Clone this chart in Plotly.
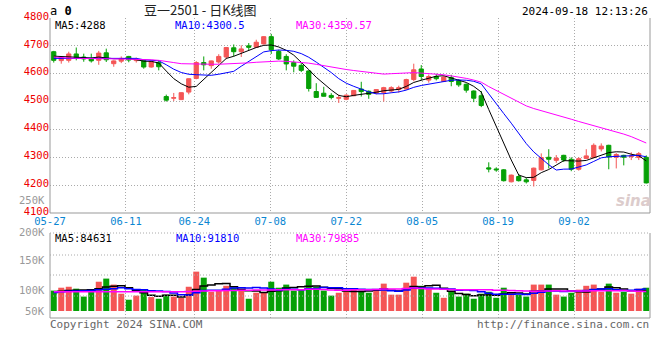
import plotly.graph_objects as go

# ---------------- data ----------------
dates = ["05-27", "05-28", "05-29", "05-30", "05-31",
         "06-03", "06-04", "06-05", "06-06", "06-07",
         "06-11", "06-12", "06-13", "06-14",
         "06-17", "06-18", "06-19", "06-20", "06-21",
         "06-24", "06-25", "06-26", "06-27", "06-28",
         "07-01", "07-02", "07-03", "07-04", "07-05",
         "07-08", "07-09", "07-10", "07-11", "07-12",
         "07-15", "07-16", "07-17", "07-18", "07-19",
         "07-22", "07-23", "07-24", "07-25", "07-26",
         "07-29", "07-30", "07-31", "08-01", "08-02",
         "08-05", "08-06", "08-07", "08-08", "08-09",
         "08-12", "08-13", "08-14", "08-15", "08-16",
         "08-19", "08-20", "08-21", "08-22", "08-23",
         "08-26", "08-27", "08-28", "08-29", "08-30",
         "09-02", "09-03", "09-04", "09-05", "09-06",
         "09-09", "09-10", "09-11", "09-12", "09-13",
         "09-18"]

opens = [4679, 4647, 4648, 4671, 4660, 4655, 4648, 4675, 4636, 4645,
         4662, 4647, 4648, 4624, 4640, 4518, 4512, 4507, 4534, 4583,
         4640, 4629, 4642, 4660, 4693, 4679, 4700, 4695, 4707, 4733,
         4680, 4662, 4640, 4630, 4610, 4536, 4530, 4522, 4512, 4508,
         4521, 4545, 4537, 4531, 4533, 4538, 4543, 4545, 4579, 4617,
         4577, 4590, 4572, 4586, 4576, 4562, 4538, 4521, 4262, 4258,
         4255, 4212, 4231, 4219, 4217, 4255, 4300, 4289, 4307, 4293,
         4257, 4296, 4299, 4330, 4343, 4300, 4307, 4302, 4299, 4300]
highs = [4682, 4662, 4679, 4694, 4672, 4672, 4682, 4690, 4648, 4662,
         4664, 4658, 4650, 4645, 4648, 4525, 4531, 4533, 4583, 4645,
         4662, 4647, 4670, 4696, 4705, 4702, 4710, 4722, 4735, 4743,
         4686, 4670, 4648, 4640, 4612, 4566, 4553, 4530, 4525, 4526,
         4541, 4571, 4540, 4545, 4553, 4555, 4557, 4582, 4636, 4631,
         4597, 4600, 4592, 4596, 4580, 4565, 4540, 4538, 4282, 4264,
         4258, 4238, 4240, 4227, 4263, 4314, 4329, 4308, 4309, 4300,
         4300, 4329, 4350, 4350, 4345, 4315, 4309, 4318, 4319, 4307]
lows = [4640, 4636, 4640, 4648, 4643, 4640, 4632, 4642, 4625, 4638,
        4641, 4640, 4618, 4622, 4612, 4500, 4502, 4506, 4526, 4580,
        4612, 4618, 4636, 4652, 4662, 4660, 4684, 4693, 4705, 4671,
        4649, 4612, 4605, 4606, 4536, 4514, 4518, 4508, 4495, 4505,
        4519, 4518, 4510, 4526, 4500, 4533, 4532, 4543, 4573, 4576,
        4568, 4576, 4570, 4555, 4553, 4532, 4498, 4480, 4246, 4248,
        4213, 4210, 4213, 4206, 4195, 4253, 4260, 4280, 4283, 4250,
        4252, 4294, 4297, 4321, 4257, 4260, 4271, 4290, 4290, 4206]
closes = [4648, 4658, 4671, 4655, 4653, 4646, 4674, 4650, 4646, 4655,
          4649, 4651, 4624, 4643, 4625, 4505, 4514, 4532, 4582, 4640,
          4632, 4646, 4662, 4694, 4679, 4689, 4695, 4713, 4733, 4686,
          4653, 4635, 4627, 4612, 4547, 4515, 4519, 4515, 4514, 4523,
          4540, 4536, 4526, 4543, 4550, 4550, 4550, 4579, 4614, 4590,
          4590, 4582, 4588, 4572, 4560, 4541, 4512, 4486, 4258, 4255,
          4216, 4236, 4216, 4212, 4261, 4299, 4293, 4297, 4290, 4257,
          4295, 4305, 4343, 4340, 4301, 4310, 4300, 4304, 4313, 4208]

ma5 = [4663, 4662, 4660, 4658, 4657.0, 4656.6, 4659.8, 4655.6, 4653.8, 4654.2,
       4654.8, 4650.2, 4645.0, 4644.4, 4638.4, 4609.6, 4582.2, 4563.8, 4551.6, 4554.6,
       4580.0, 4606.4, 4632.4, 4654.8, 4662.6, 4674.0, 4683.8, 4694.0, 4701.8, 4703.2,
       4696.0, 4684.0, 4666.8, 4642.6, 4614.8, 4587.2, 4564.0, 4541.6, 4522.0, 4517.2,
       4522.2, 4525.6, 4527.8, 4533.6, 4539.0, 4541.0, 4543.8, 4554.4, 4568.6, 4576.6,
       4584.6, 4591.0, 4592.8, 4584.4, 4578.4, 4568.6, 4554.6, 4534.2, 4471.4, 4410.4,
       4345.4, 4290.2, 4236.2, 4227.0, 4228.2, 4244.8, 4256.2, 4272.4, 4288.0, 4287.2,
       4286.4, 4288.8, 4298.0, 4308.0, 4316.8, 4319.8, 4318.8, 4311.0, 4305.6, 4287.0]
ma10 = [4655, 4655, 4656, 4656, 4656, 4655, 4656, 4655, 4655, 4655.6,
        4655.7, 4655.0, 4650.3, 4649.1, 4646.3, 4632.2, 4616.2, 4604.4, 4598.0, 4596.5,
        4594.8, 4594.3, 4598.1, 4603.2, 4608.6, 4627.0, 4645.1, 4663.2, 4678.3, 4682.9,
        4685.0, 4683.9, 4680.4, 4672.2, 4659.0, 4641.6, 4624.0, 4604.2, 4582.3, 4566.0,
        4554.7, 4544.8, 4534.7, 4527.8, 4528.1, 4531.6, 4534.7, 4541.1, 4551.1, 4557.8,
        4562.8, 4567.4, 4573.6, 4576.5, 4577.5, 4576.6, 4572.8, 4563.5, 4527.9, 4494.4,
        4457.0, 4422.4, 4385.2, 4349.2, 4319.3, 4295.1, 4273.2, 4254.3, 4257.5, 4257.7,
        4265.6, 4272.5, 4285.2, 4298.0, 4302.0, 4303.1, 4303.8, 4304.5, 4306.8, 4301.9]
ma30 = [4660, 4657, 4656, 4655, 4655, 4654, 4654, 4653, 4653, 4653,
        4652, 4652, 4651, 4650, 4648, 4645, 4640, 4636, 4635, 4635,
        4634, 4634, 4634, 4635, 4635, 4636, 4639, 4641, 4643, 4645.0,
        4645.2, 4644.4, 4642.9, 4641.5, 4638.0, 4633.6, 4628.4, 4623.9, 4619.5, 4615.1,
        4611.5, 4607.7, 4604.4, 4601.1, 4598.6, 4600.1, 4601.3, 4602.8, 4603.9, 4602.2,
        4600.8, 4598.7, 4596.2, 4592.2, 4588.2, 4583.3, 4577.2, 4569.6, 4553.8, 4539.4,
        4524.8, 4511.5, 4497.8, 4484.5, 4475.0, 4467.8, 4460.2, 4453.0, 4445.5, 4436.6,
        4428.5, 4420.8, 4414.7, 4407.9, 4399.6, 4391.6, 4383.3, 4374.1, 4364.1, 4351.3]

volumes = [85000, 97000, 101000, 93000, 60000, 89000, 122000, 135000, 110000, 72000,
           47000, 64000, 89000, 58000, 51000, 68000, 60000, 55000, 101000, 164000,
           139000, 80000, 85000, 105000, 97000, 85000, 51000, 76000, 76000, 122000,
           97000, 110000, 85000, 89000, 135000, 101000, 85000, 64000, 76000, 89000,
           93000, 85000, 76000, 89000, 114000, 68000, 68000, 118000, 143000, 105000,
           93000, 76000, 55000, 80000, 60000, 72000, 51000, 72000, 80000, 55000,
           97000, 76000, 68000, 60000, 110000, 110000, 110000, 68000, 60000, 76000,
           89000, 105000, 110000, 80000, 114000, 76000, 80000, 72000, 93000, 97000]
vol_ma5 = [79, 82, 85, 86, 87.2, 88.0, 93.0, 99.8, 103.2, 105.6,
           97.2, 85.6, 76.4, 66.0, 61.8, 66.0, 65.2, 58.4, 67.0, 89.6,
           103.8, 107.8, 113.8, 114.6, 101.2, 90.4, 84.6, 82.8, 77.0, 82.0,
           84.4, 96.2, 98.0, 100.6, 103.2, 104.0, 99.0, 94.8, 92.2, 83.0,
           81.4, 81.4, 83.8, 86.4, 91.4, 86.4, 83.0, 91.4, 102.2, 100.4,
           105.4, 107.0, 94.4, 81.8, 72.8, 68.6, 63.6, 67.0, 67.0, 66.0,
           71.0, 76.0, 75.2, 71.2, 82.2, 84.8, 91.6, 91.6, 91.6, 84.8,
           80.6, 79.6, 88.0, 92.0, 99.6, 97.0, 92.0, 84.4, 87.0, 83.6]
vol_ma10 = [77, 80, 82, 83, 84, 85, 88, 91, 93, 96.4,
            92.6, 89.3, 88.1, 84.6, 83.7, 81.6, 75.4, 67.4, 66.5, 75.7,
            84.9, 86.5, 86.1, 90.8, 95.4, 97.1, 96.2, 98.3, 95.8, 91.6,
            87.4, 90.4, 90.4, 88.8, 92.6, 94.2, 97.6, 96.4, 96.4, 93.1,
            92.7, 90.2, 89.3, 89.3, 87.2, 83.9, 82.2, 87.6, 94.3, 95.9,
            95.9, 95.0, 92.9, 92.0, 86.6, 87.0, 85.3, 80.7, 74.4, 69.4,
            69.8, 69.8, 71.1, 69.1, 74.1, 77.9, 83.8, 83.4, 81.4, 83.5,
            82.7, 85.6, 89.8, 91.8, 92.2, 88.8, 85.8, 86.2, 89.5, 91.6]
vol_ma30 = [80, 80, 80, 80, 80, 80, 80, 80, 80, 80,
            80, 80, 80, 80, 80, 80, 80, 80, 81, 82,
            83, 84, 84, 85, 85, 86, 86, 87, 87, 87.9,
            88.3, 88.7, 88.2, 88.1, 90.6, 91.0, 89.7, 87.4, 86.2, 86.8,
            88.3, 89.0, 88.6, 89.6, 91.7, 91.7, 92.0, 94.1, 95.5, 93.5,
            92.0, 91.9, 90.9, 90.0, 88.8, 88.4, 88.4, 88.2, 88.4, 86.1,
            86.1, 85.0, 84.4, 83.5, 82.6, 82.9, 83.8, 83.9, 83.4, 82.9,
            82.8, 83.5, 84.6, 84.3, 84.3, 84.6, 85.0, 83.4, 81.8, 81.5]

tick_dates = ["05-27", "06-11", "06-24", "07-08", "07-22", "08-05", "08-19", "09-02"]
price_ticks = [4100, 4200, 4300, 4400, 4500, 4600, 4700, 4800]
vol_tick_labels = ["250K", "200K", "150K", "100K", "50K"]

title_text = "豆一2501 - 日K线图"
time_text = "2024-09-18 12:13:26"
price_ma_text = ["MA5:4288", "MA10:4300.5", "MA30:4350.57"]
vol_ma_text = ["MA5:84631", "MA10:91810", "MA30:79885"]

# ---------------- styling ----------------
RED = "#f45656"
GREEN = "#06a006"
MONO = "DejaVu Sans Mono"
W, H = 660, 360
ML, MR, MT, MB = 50, 10, 18, 42
PW, PH = W - ML - MR, H - MT - MB


def px(x):
    return (x - ML) / PW


def py(y):
    return (H - MB - y) / PH


xs = list(range(len(dates)))
n = len(dates)
tickvals = [dates.index(d) * n / (n - 1) - 0.5 for d in tick_dates]
vol_k = 1000

fig = go.Figure()
fig.add_trace(go.Candlestick(
    x=xs, open=opens, high=highs, low=lows, close=closes,
    increasing=dict(line=dict(color=RED, width=1), fillcolor=RED),
    decreasing=dict(line=dict(color=GREEN, width=1), fillcolor=GREEN),
    whiskerwidth=0, showlegend=False, hoverinfo="skip",
    xaxis="x", yaxis="y"))
for series, col in [(ma5, "#000000"), (ma10, "#0000ff"), (ma30, "#ff00ff")]:
    fig.add_trace(go.Scatter(x=xs, y=series, mode="lines",
                             line=dict(color=col, width=1),
                             showlegend=False, hoverinfo="skip",
                             xaxis="x", yaxis="y"))

bar_colors = [RED if c >= o else GREEN for o, c in zip(opens, closes)]
fig.add_trace(go.Bar(x=xs, y=volumes, marker=dict(color=bar_colors, line=dict(width=0)),
                     width=0.8, showlegend=False, hoverinfo="skip",
                     xaxis="x2", yaxis="y2"))
for series, col in [(vol_ma5, "#000000"), (vol_ma10, "#0000ff"), (vol_ma30, "#ff00ff")]:
    fig.add_trace(go.Scatter(x=xs, y=[v * vol_k for v in series], mode="lines",
                             line=dict(color=col, width=1.5, shape="hvh"),
                             showlegend=False, hoverinfo="skip",
                             xaxis="x2", yaxis="y2"))

GRID = "#aaaaaa"
xcommon = dict(range=[-0.5, n - 0.5], tickvals=tickvals, showgrid=True,
               gridcolor=GRID, griddash="1px,2px", gridwidth=1,
               zeroline=False, showline=False, ticks="", fixedrange=True)

vol_top = py(233)
fig.update_layout(
    width=W, height=H,
    margin=dict(l=ML, r=MR, t=MT, b=MB),
    paper_bgcolor="white", plot_bgcolor="white",
    boxgap=0.2,
    xaxis=dict(**xcommon, ticktext=tick_dates, anchor="y",
               tickfont=dict(family=MONO, size=10.5, color="#0a86d2"),
               rangeslider=dict(visible=False)),
    xaxis2=dict(**xcommon, matches="x", anchor="y2", showticklabels=False),
    yaxis=dict(domain=[py(213), 1.0], range=[4100, 4800], tickvals=price_ticks,
               tickfont=dict(family=MONO, size=10.5, color="#ee0000"),
               ticklabelshift=-2,
               showgrid=True, gridcolor=GRID, griddash="1px,2px", gridwidth=1,
               zeroline=False, ticks="", fixedrange=True, anchor="x"),
    yaxis2=dict(domain=[0, vol_top], range=[-29200, 325000],
                showticklabels=False, showgrid=False, zeroline=False,
                ticks="", fixedrange=True, anchor="x2"),
)

BORDER = "#999999"
shapes = []
def line(x0, y0, x1, y1, dash="solid", color=BORDER):
    shapes.append(dict(type="line", xref="paper", yref="paper",
                       x0=x0, y0=y0, x1=x1, y1=y1,
                       line=dict(color=color, width=1, dash=dash)))

pb = py(213)
line(0, pb, 0, 1)
line(1, pb, 1, 1)
line(0, pb, 1, pb)
line(0, 0, 0, vol_top)
line(1, 0, 1, vol_top)
line(0, 0, 1, 0)
line(0, vol_top, 1, vol_top, dash="1px,2px", color=GRID)
for gy in (255, 275, 296):
    line(0, py(gy), 1, py(gy), dash="1px,2px", color=GRID)
fig.update_layout(shapes=shapes)

ann = []
def text(x, y, s, color="#000", size=11, anchor="left", family=MONO):
    ann.append(dict(x=px(x), y=py(y), xref="paper", yref="paper", text=s,
                    showarrow=False, xanchor=anchor, yanchor="middle",
                    font=dict(family=family, size=size, color=color)))

text(48, 10.5, "a <b>0</b>", size=12)
text(200, 9.5, title_text, color="#222", size=13, anchor="center",
     family="Noto Sans CJK SC")
text(650, 12, time_text, size=11, anchor="right")
ma_cols = ["#000000", "#0000ff", "#ff00ff"]
for s, c, x in zip(price_ma_text, ma_cols, (53, 173, 294)):
    text(x, 25, s, color=c, size=10.5)
for s, c, x in zip(vol_ma_text, ma_cols, (53, 174, 294)):
    text(x, 238, s, color=c, size=10.5)
for s, y in zip(vol_tick_labels, (200, 232, 260, 290, 311)):
    text(47, y, s, color="#999999", anchor="right", size=10.5)
text(48, 324, "Copyright 2024 SINA.COM", color="#666666")
text(651, 324, "http://finance.sina.com.cn", color="#666666", anchor="right")
text(633, 201, "<b><i>sina</i></b>", color="#dccccc", size=15, anchor="center",
     family="DejaVu Sans")
fig.update_layout(annotations=ann)

fig.write_html("out.html", config={"displayModeBar": False, "staticPlot": True},
               post_script="document.body.style.margin='0px';document.body.style.overflow='hidden';")
